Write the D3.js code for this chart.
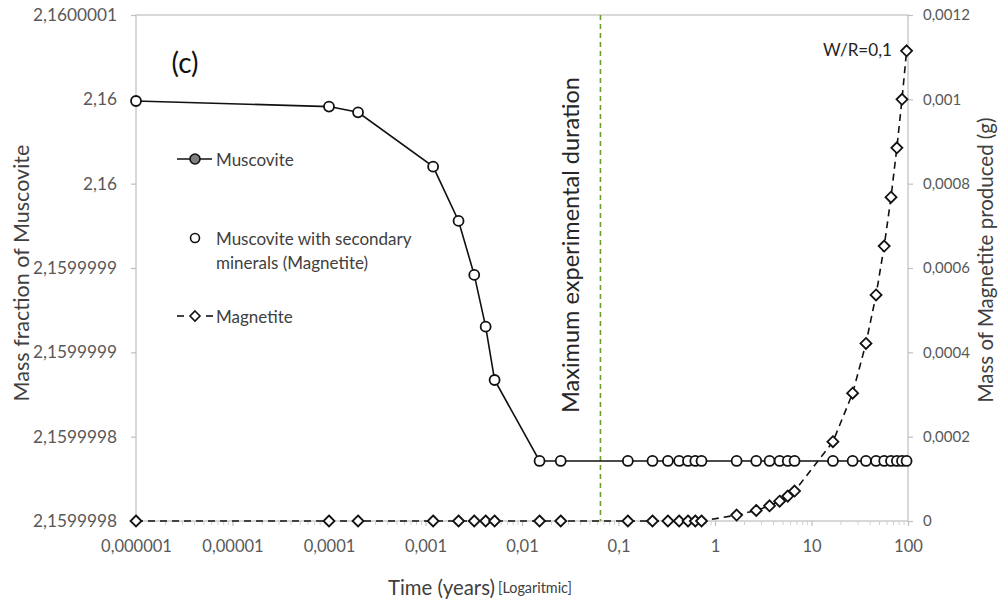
<!DOCTYPE html>
<html>
<head>
<meta charset="utf-8">
<script src="https://cdn.jsdelivr.net/npm/d3@7"></script>
<style>
  html, body { margin: 0; padding: 0; background: #fff; }
  svg { display: block; font-family: Lato, "Open Sans", sans-serif; }
</style>
</head>
<body>
<svg id="chart" width="1006" height="604"></svg>
<script>
// ---- data ----
const times = [0.000001, 0.0001, 0.0002, 0.0012, 0.0022, 0.0032, 0.0042, 0.0052, 0.0152, 0.0252,
  0.125, 0.225, 0.325, 0.425, 0.525, 0.625, 0.725,
  1.675, 2.675, 3.675, 4.675, 5.675, 6.675,
  16.675, 26.675, 36.675, 46.675, 56.675, 66.675, 76.675, 86.675, 96.675];
const muscovite = [2.1600000490, 2.1600000457, 2.1600000423, 2.1600000101, 2.1599999779, 2.1599999459,
  2.1599999152, 2.1599998836, 2.1599998356, 2.1599998356,
  2.1599998356, 2.1599998356, 2.1599998356, 2.1599998356, 2.1599998356, 2.1599998356, 2.1599998356,
  2.1599998356, 2.1599998356, 2.1599998356, 2.1599998356, 2.1599998356, 2.1599998356,
  2.1599998356, 2.1599998356, 2.1599998356, 2.1599998356, 2.1599998356, 2.1599998356, 2.1599998356, 2.1599998356, 2.1599998356];
const magnetite = [0, 0, 0, 0, 0, 0, 0, 0, 0, 0,
  0, 0, 0, 0, 0, 0, 0,
  0.000014, 0.000025, 0.000036, 0.000047, 0.000059, 0.000071,
  0.000188, 0.000303, 0.000421, 0.000536, 0.000652, 0.000768, 0.000885, 0.001000, 0.001115];
const maxExperimentalDuration = 0.065;

const xTickValues = [0.000001, 0.00001, 0.0001, 0.001, 0.01, 0.1, 1, 10, 100];
const xTickLabels = ["0,000001", "0,00001", "0,0001", "0,001", "0,01", "0,1", "1", "10", "100"];
const leftTickValues = [2.1599998, 2.15999985, 2.1599999, 2.15999995, 2.16, 2.16000005, 2.1600001];
const leftTickLabels = ["2,1599998", "2,1599998", "2,1599999", "2,1599999", "2,16", "2,16", "2,1600001"];
const rightTickValues = [0, 0.0002, 0.0004, 0.0006, 0.0008, 0.001, 0.0012];
const rightTickLabels = ["0", "0,0002", "0,0004", "0,0006", "0,0008", "0,001", "0,0012"];

// ---- layout ----
const L = 136, R = 908, T = 15, B = 521;
const svg = d3.select("#chart");

const x = d3.scaleLog().domain([0.000001, 100]).range([L, R]);
const yL = d3.scaleLinear().domain([2.1599998, 2.1600001]).range([B, T]);
const yR = d3.scaleLinear().domain([0, 0.0012]).range([B, T]);

const axisColor = "#bfbfbf", tickText = "#595959";

// scale a text's font size so that its advance length equals a target width
function fit(sel, target) {
  const fs = parseFloat(sel.attr("font-size"));
  const w = sel.node().getComputedTextLength();
  const nfs = fs * target / w;
  sel.attr("font-size", nfs);
  return nfs;
}

// frame
svg.append("rect").attr("x", L).attr("y", T).attr("width", R - L).attr("height", B - T)
  .attr("fill", "none").attr("stroke", axisColor).attr("stroke-width", 1.2);

// minor x ticks
const minor = [];
xTickValues.slice(0, -1).forEach(d => { for (let k = 2; k <= 9; k++) minor.push(d * k); });
const gMinor = svg.append("g").attr("transform", `translate(0,${B})`)
  .call(d3.axisBottom(x).tickValues(minor).tickSize(4).tickFormat(""));
gMinor.select(".domain").remove();
gMinor.selectAll("line").attr("stroke", "#d0d0d0");

// axes
function styleAxis(g, fs) {
  g.select(".domain").remove();
  g.selectAll("line").attr("stroke", axisColor).attr("stroke-width", 1.2);
  g.selectAll("text").attr("fill", tickText).attr("font-size", fs).attr("font-family", "Lato, sans-serif");
}
const gx = svg.append("g").attr("transform", `translate(0,${B})`)
  .call(d3.axisBottom(x).tickValues(xTickValues).tickSize(5).tickPadding(14)
    .tickFormat((d, i) => xTickLabels[i]));
styleAxis(gx, 17);
{ const t = gx.selectAll("text").filter((d, i) => i === 0); const f = fit(t, 71); gx.selectAll("text").attr("font-size", f); }

const gl = svg.append("g").attr("transform", `translate(${L},0)`)
  .call(d3.axisLeft(yL).tickValues(leftTickValues).tickSize(5).tickPadding(14)
    .tickFormat((d, i) => leftTickLabels[i]));
styleAxis(gl, 17);
{ const t = gl.selectAll("text").filter((d, i) => i === 6); const f = fit(t, 84); gl.selectAll("text").attr("font-size", f); }

const gr = svg.append("g").attr("transform", `translate(${R},0)`)
  .call(d3.axisRight(yR).tickValues(rightTickValues).tickSize(5).tickPadding(10)
    .tickFormat((d, i) => rightTickLabels[i]));
styleAxis(gr, 15);

// max experimental duration line
svg.append("line").attr("x1", x(maxExperimentalDuration)).attr("x2", x(maxExperimentalDuration))
  .attr("y1", T).attr("y2", B).attr("stroke", "#6f9e2c").attr("stroke-width", 1.6)
  .attr("stroke-dasharray", "5,4");
const maxText = svg.append("text").attr("transform", `translate(${x(maxExperimentalDuration) - 21},245) rotate(-90)`)
  .attr("text-anchor", "middle")
  .attr("font-size", 20).attr("fill", "#262626").text("Maximum experimental duration");
fit(maxText, 336);

// muscovite series
const pts = times.map((t, i) => ({ t, m: muscovite[i], g: magnetite[i] }));
svg.append("path").datum(pts)
  .attr("d", d3.line().x(d => x(d.t)).y(d => yL(d.m)))
  .attr("fill", "none").attr("stroke", "#111").attr("stroke-width", 1.6);

// magnetite series
svg.append("path").datum(pts)
  .attr("d", d3.line().x(d => x(d.t)).y(d => yR(d.g)))
  .attr("fill", "none").attr("stroke", "#111").attr("stroke-width", 1.6)
  .attr("stroke-dasharray", "7,5");

svg.append("g").selectAll("circle").data(pts).join("circle")
  .attr("cx", d => x(d.t)).attr("cy", d => yL(d.m)).attr("r", 5)
  .attr("fill", "#fff").attr("stroke", "#111").attr("stroke-width", 1.8);

const diamond = s => `M0,${-s}L${s},0L0,${s}L${-s},0Z`;
svg.append("g").selectAll("path").data(pts).join("path")
  .attr("transform", d => `translate(${x(d.t)},${yR(d.g)})`)
  .attr("d", diamond(5.5))
  .attr("fill", "#fff").attr("stroke", "#111").attr("stroke-width", 1.8);

// annotations
const cLab = svg.append("text").attr("x", 185).attr("y", 62).attr("text-anchor", "middle")
  .attr("dominant-baseline", "central").attr("font-size", 20).attr("fill", "#111").text("(c)");
fit(cLab, 27);
const wr = svg.append("text").attr("x", 892).attr("y", 49).attr("text-anchor", "end")
  .attr("dominant-baseline", "central").attr("font-size", 15).attr("fill", "#262626").text("W/R=0,1");
fit(wr, 69);

// legend
const lg = svg.append("g").attr("font-size", 17).attr("fill", "#404040");
lg.append("line").attr("x1", 177).attr("x2", 212).attr("y1", 159).attr("y2", 159)
  .attr("stroke", "#111").attr("stroke-width", 1.6);
lg.append("circle").attr("cx", 195).attr("cy", 159).attr("r", 5)
  .attr("fill", "#7f7f7f").attr("stroke", "#111").attr("stroke-width", 1.6);
const lt1 = lg.append("text").attr("x", 216).attr("y", 159).attr("dominant-baseline", "central").text("Muscovite");

lg.append("circle").attr("cx", 195).attr("cy", 238).attr("r", 4.5)
  .attr("fill", "#fff").attr("stroke", "#111").attr("stroke-width", 1.6);
const lt2 = lg.append("text").attr("x", 216).attr("y", 238).attr("dominant-baseline", "central").text("Muscovite with secondary");
const lt3 = lg.append("text").attr("x", 216).attr("y", 262).attr("dominant-baseline", "central").text("minerals (Magnetite)");

lg.append("line").attr("x1", 177).attr("x2", 184).attr("y1", 316).attr("y2", 316)
  .attr("stroke", "#111").attr("stroke-width", 1.6);
lg.append("line").attr("x1", 206).attr("x2", 213).attr("y1", 316).attr("y2", 316)
  .attr("stroke", "#111").attr("stroke-width", 1.6);
lg.append("path").attr("transform", "translate(195,316)").attr("d", diamond(5))
  .attr("fill", "#fff").attr("stroke", "#111").attr("stroke-width", 1.6);
const lt4 = lg.append("text").attr("x", 216).attr("y", 316).attr("dominant-baseline", "central").text("Magnetite");
{ const f = fit(lt2, 209); [lt1, lt3, lt4].forEach(s => s.attr("font-size", f)); }

// axis titles
const ltitle = svg.append("text").attr("transform", "translate(21,273) rotate(-90)").attr("text-anchor", "middle")
  .attr("dominant-baseline", "central").attr("font-size", 19).attr("fill", "#404040")
  .text("Mass fraction of Muscovite");
fit(ltitle, 257);
const rtitle = svg.append("text").attr("transform", "translate(985,260) rotate(-90)").attr("text-anchor", "middle")
  .attr("dominant-baseline", "central").attr("font-size", 19).attr("fill", "#404040")
  .text("Mass of Magnetite produced (g)");
fit(rtitle, 285);
const xt = svg.append("text").attr("x", 388).attr("y", 587).attr("dominant-baseline", "central")
  .attr("fill", "#404040");
const xt1 = xt.append("tspan").attr("font-size", 18).text("Time (years)");
xt.append("tspan").attr("font-size", 12).text(" ");
const xt2 = xt.append("tspan").attr("font-size", 12).text("[Logaritmic]");
{ const w1 = xt1.node().getComputedTextLength(); xt1.attr("font-size", 18 * 107 / w1);
  const w2 = xt2.node().getComputedTextLength(); xt2.attr("font-size", 12 * 74 / w2); }
</script>
</body>
</html>
